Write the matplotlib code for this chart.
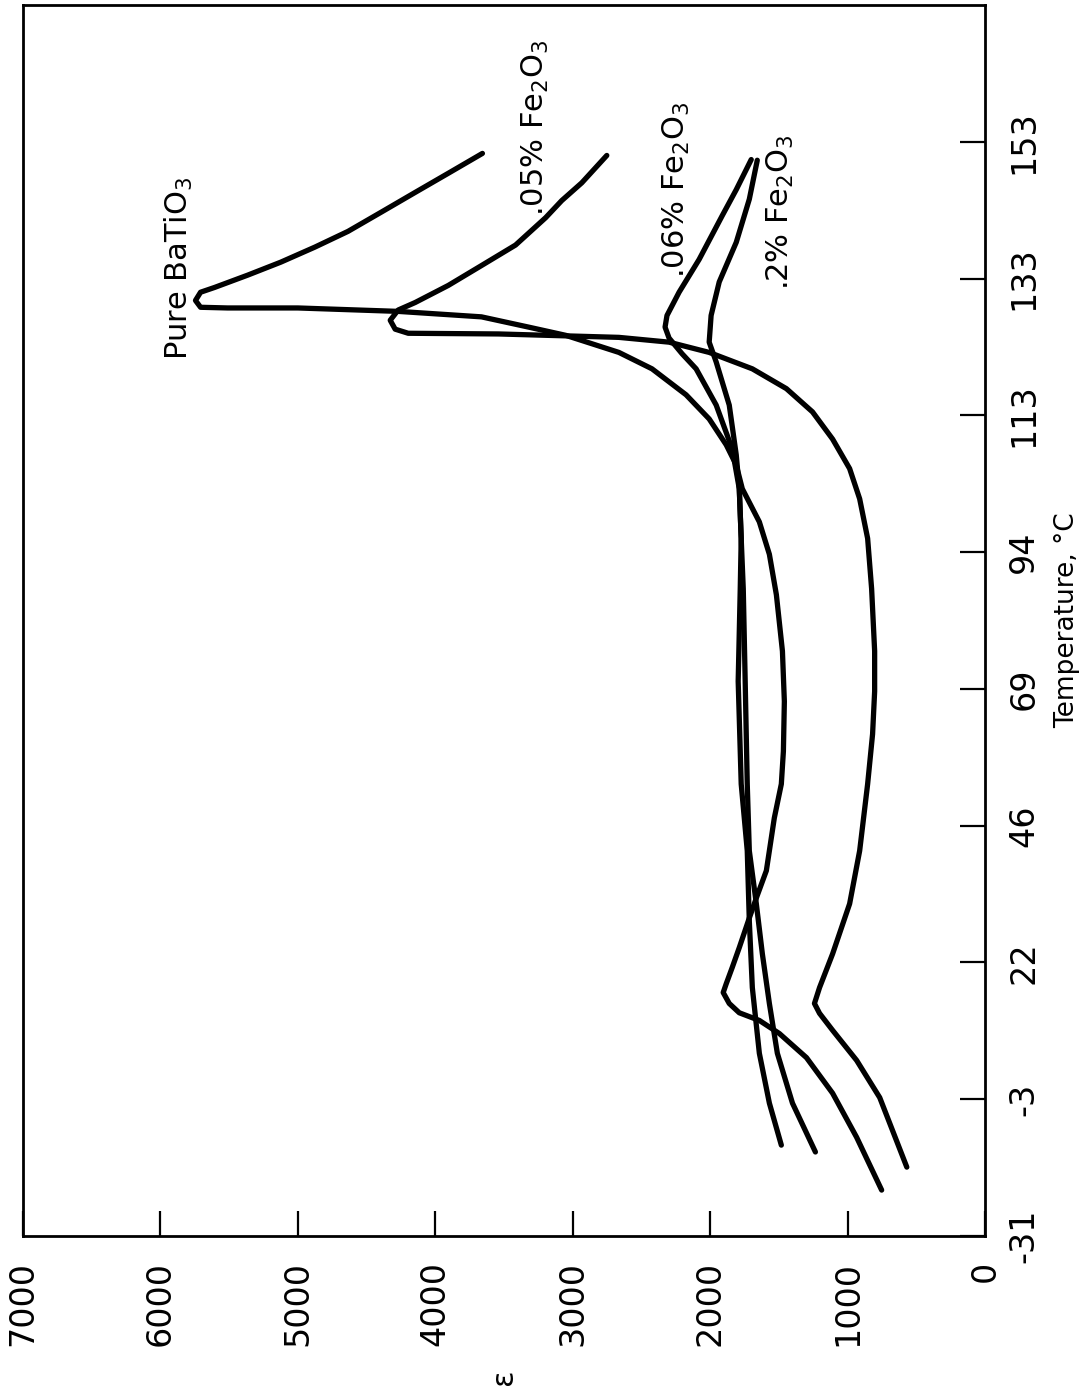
import numpy as np
import matplotlib
matplotlib.use('Agg')
import matplotlib.pyplot as plt
from matplotlib.ticker import NullLocator

# Temperature axis: labels are evenly spaced on the sheet but not in value
temp_ticks = [-31, -3, 22, 46, 69, 94, 113, 133, 153]
temp_labels = ['-31', '-3', '22', '46', '69', '94', '113', '133', '153']
eps_ticks = [0, 1000, 2000, 3000, 4000, 5000, 6000, 7000]

# curves: temperature (deg C) and permittivity,
# each one traced from the hot end down to the cold end
pure_T = [151.3, 148.4, 145.6, 142.7, 139.9, 137.6, 135.4, 133.5, 131.7, 131.0,
          129.8, 128.8, 128.7, 128.7, 128.2, 127.4, 125.9, 124.7, 122.2, 119.8,
          116.0, 112.5, 108.9, 106.1, 102.8, 98.2, 93.6, 86.2, 75.9, 66.9,
          58.5, 53.0, 47.3, 41.6, 38.1, 33.3, 29.8, 24.6, 21.1, 18.1,
          16.5, 14.5, 12.8, 11.4, 9.0, 4.6, -1.9, -10.8, -21.6]
pure_eps = [3657, 3905, 4146, 4394, 4635, 4876, 5124, 5365, 5606, 5708,
            5745, 5708, 5511, 5000, 4270, 3664, 3321, 3051, 2664, 2423,
            2175, 2007, 1883, 1810, 1766, 1642, 1569, 1518, 1474, 1460,
            1467, 1482, 1533, 1569, 1591, 1664, 1715, 1788, 1839, 1883,
            1905, 1861, 1788, 1642, 1496, 1299, 1109, 934, 752]

fe05_T = [151.0, 147.0, 144.4, 141.9, 137.9, 134.9, 132.0, 129.5, 128.4, 126.9,
          125.6, 125.0, 124.9, 124.4, 123.7, 122.2, 119.8, 116.9, 113.5, 109.7,
          105.6, 101.4, 95.9, 87.3, 75.9, 68.6, 61.4, 53.0, 41.6, 32.3,
          23.5, 17.4, 14.5, 12.7, 9.6, 4.1, -2.7, -16.9]
fe05_eps = [2752, 2934, 3080, 3197, 3416, 3664, 3905, 4146, 4270, 4328,
            4292, 4197, 3540, 2664, 2299, 2007, 1693, 1445, 1255, 1109,
            985, 912, 854, 825, 803, 803, 818, 854, 912, 985,
            1109, 1204, 1241, 1204, 1109, 934, 766, 569]

fe06_T = [150.4, 146.0, 142.2, 135.8, 131.0, 127.6, 125.9, 124.3, 122.0, 119.8,
          114.5, 108.3, 102.8, 95.9, 87.3, 70.4, 53.0, 41.6, 32.3, 23.5,
          14.5, 5.4, -3.8, -13.8]
fe06_eps = [1701, 1810, 1912, 2080, 2226, 2314, 2328, 2299, 2204, 2102,
            1956, 1839, 1788, 1774, 1759, 1745, 1730, 1715, 1664, 1620,
            1569, 1511, 1401, 1234]

fe2_T = [150.3, 144.6, 138.3, 132.5, 127.6, 123.7, 120.8, 114.5, 107.5, 102.8,
         95.9, 87.3, 70.4, 53.0, 41.6, 29.3, 17.4, 5.4, -3.8, -12.4]
fe2_eps = [1657, 1715, 1810, 1934, 1993, 2007, 1956, 1861, 1810, 1788,
           1774, 1781, 1796, 1774, 1730, 1715, 1693, 1642, 1569, 1482]

# piecewise linear scale so the uneven tick values sit at equal spacing
scale_T = [-59] + temp_ticks + [173, 193]
scale_pos = list(range(-1, len(temp_ticks) + 2))


def forward(t):
    return np.interp(t, scale_T, scale_pos)


def inverse(p):
    return np.interp(p, scale_pos, scale_T)


fig = plt.figure(figsize=(10.9, 13.98), dpi=100)
ax = fig.add_axes([23 / 1090, 162 / 1398, 962 / 1090, 1231 / 1398])

ax.set_yscale('function', functions=(forward, inverse))

lw = 3.8
for e, t in [(pure_eps, pure_T), (fe05_eps, fe05_T), (fe06_eps, fe06_T), (fe2_eps, fe2_T)]:
    ax.plot(e, t, color='black', lw=lw, solid_joinstyle='round', solid_capstyle='round')

ax.set_xlim(7000, 0)
ax.set_ylim(-31, 173)

ax.set_xticks(eps_ticks)
ax.set_xticklabels([str(v) for v in eps_ticks])
ax.set_yticks(temp_ticks)
ax.set_yticklabels(temp_labels)
ax.yaxis.set_minor_locator(NullLocator())
ax.xaxis.set_minor_locator(NullLocator())
ax.yaxis.tick_right()
ax.yaxis.set_label_position('right')

ax.tick_params(axis='x', direction='in', length=18, width=1.6, pad=18,
               labelsize=24, labelrotation=90, top=False)
ax.tick_params(axis='y', direction='in', length=18, width=1.6, pad=16,
               labelsize=24, labelrotation=90, left=False)
for lab in ax.get_yticklabels():
    lab.set_va('center')

for s in ax.spines.values():
    s.set_linewidth(2.0)

ax.set_xlabel('ε', fontsize=22, rotation=90, labelpad=16)
ax.set_ylabel('Temperature, °C', fontsize=19, labelpad=10)

# curve names, written along the curves as on the sheet
fig.text(179 / 1090, 1 - 268 / 1398, 'Pure BaTiO$_3$', rotation=90,
         fontsize=22, ha='center', va='center')
fig.text(535 / 1090, 1 - 128 / 1398, '.05% Fe$_2$O$_3$', rotation=90,
         fontsize=22, ha='center', va='center')
fig.text(676 / 1090, 1 - 190 / 1398, '.06% Fe$_2$O$_3$', rotation=90,
         fontsize=22, ha='center', va='center')
fig.text(780 / 1090, 1 - 212 / 1398, '.2% Fe$_2$O$_3$', rotation=90,
         fontsize=22, ha='center', va='center')

fig.savefig('out.png', dpi=100)
